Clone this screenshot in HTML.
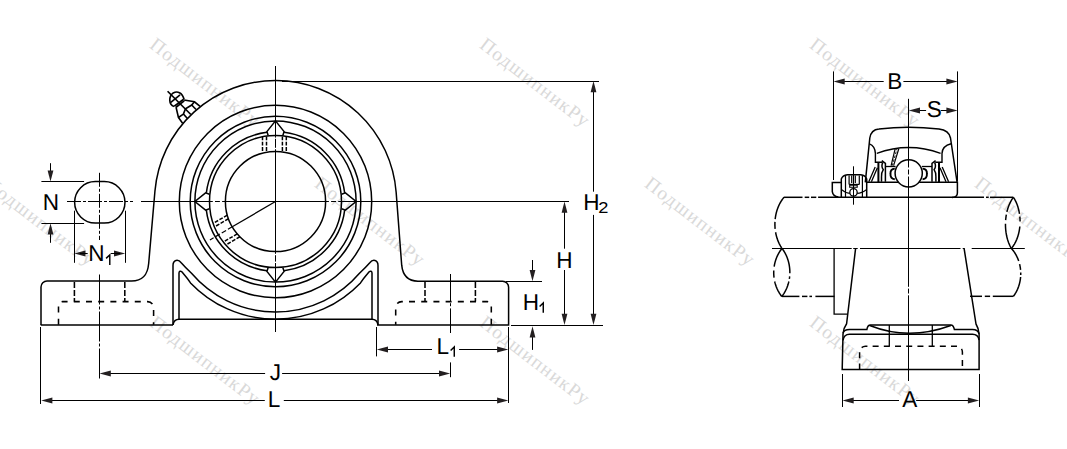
<!DOCTYPE html>
<html><head><meta charset="utf-8">
<style>
html,body{margin:0;padding:0;background:#fff;}
svg{display:block;}
svg text{font-family:"Liberation Sans",sans-serif;fill:#000;stroke:none;text-rendering:geometricPrecision;}
svg text.wm{font-family:"Liberation Serif",serif;fill:#d9d9d9;font-size:19.5px;letter-spacing:1.2px;}
</style></head><body>
<svg width="1067" height="449" viewBox="0 0 1067 449" stroke="#000" fill="none" stroke-linecap="butt">
<text class="wm" transform="translate(157,36) rotate(37.5)" x="0" y="14">ПодшипникРу</text>
<text class="wm" transform="translate(487,36) rotate(37.5)" x="0" y="14">ПодшипникРу</text>
<text class="wm" transform="translate(817,36) rotate(37.5)" x="0" y="14">ПодшипникРу</text>
<text class="wm" transform="translate(-8,175) rotate(37.5)" x="0" y="14">ПодшипникРу</text>
<text class="wm" transform="translate(322,175) rotate(37.5)" x="0" y="14">ПодшипникРу</text>
<text class="wm" transform="translate(652,175) rotate(37.5)" x="0" y="14">ПодшипникРу</text>
<text class="wm" transform="translate(982,175) rotate(37.5)" x="0" y="14">ПодшипникРу</text>
<text class="wm" transform="translate(157,314) rotate(37.5)" x="0" y="14">ПодшипникРу</text>
<text class="wm" transform="translate(487,314) rotate(37.5)" x="0" y="14">ПодшипникРу</text>
<text class="wm" transform="translate(817,314) rotate(37.5)" x="0" y="14">ПодшипникРу</text>
<line x1="275.5" y1="66" x2="275.5" y2="137.6" stroke-width="1.05"/>
<line x1="275.5" y1="138.8" x2="275.5" y2="147.8" stroke-width="1.05"/>
<line x1="275.5" y1="149.2" x2="275.5" y2="253.8" stroke-width="1.05"/>
<line x1="275.5" y1="255.2" x2="275.5" y2="261.6" stroke-width="1.05"/>
<line x1="275.5" y1="263" x2="275.5" y2="332" stroke-width="1.05"/>
<line x1="141" y1="201.5" x2="212.8" y2="201.5" stroke-width="1.05"/>
<line x1="215" y1="201.5" x2="219.9" y2="201.5" stroke-width="1.05"/>
<line x1="222.1" y1="201.5" x2="328.9" y2="201.5" stroke-width="1.05"/>
<line x1="331.1" y1="201.5" x2="336" y2="201.5" stroke-width="1.05"/>
<line x1="338.2" y1="201.5" x2="569" y2="201.5" stroke-width="1.05"/>
<line x1="67" y1="201.5" x2="133" y2="201.5" stroke-width="1.0" stroke-dasharray="14,2,3,2"/>
<line x1="99.5" y1="172.8" x2="99.5" y2="240" stroke-width="1.0" stroke-dasharray="14,2,3,2"/>
<line x1="99.5" y1="274.5" x2="99.5" y2="380.4" stroke-width="1.0" stroke-dasharray="30,2,3,2"/>
<path d="M95.3,181.6 L104.3,181.6 A20.7,20.7 0 0 1 104.3,223 L95.3,223 A20.7,20.7 0 0 1 95.3,181.6 Z" stroke-width="1.5" fill="none"/>
<line x1="41.4" y1="181.5" x2="84.1" y2="181.5" stroke-width="1.0"/>
<line x1="41.4" y1="223.5" x2="84.1" y2="223.5" stroke-width="1.0"/>
<line x1="50.5" y1="163.2" x2="50.5" y2="175" stroke-width="1.0"/>
<path d="M50.5,181.6 L47.6,170.4 L53.4,170.4 Z" fill="#231f20" stroke="none"/>
<line x1="50.5" y1="232" x2="50.5" y2="242.8" stroke-width="1.0"/>
<path d="M50.5,223.2 L53.4,234.4 L47.6,234.4 Z" fill="#231f20" stroke="none"/>
<text transform="translate(42.75,209.7) scale(0.98,1.0)" font-size="23">N</text>
<line x1="74.5" y1="210.7" x2="74.5" y2="262.8" stroke-width="1.0"/>
<line x1="125.5" y1="210.7" x2="125.5" y2="262.8" stroke-width="1.0"/>
<path d="M74.3,253.5 L85.5,250.6 L85.5,256.4 Z" fill="#231f20" stroke="none"/>
<path d="M125.2,253.5 L114,256.4 L114,250.6 Z" fill="#231f20" stroke="none"/>
<line x1="80" y1="253.5" x2="87.7" y2="253.5" stroke-width="1.0"/>
<line x1="110.8" y1="253.5" x2="120" y2="253.5" stroke-width="1.0"/>
<text transform="translate(88.35,260.9) scale(0.98,1.0)" font-size="23">N</text>
<path d="M109.78,265 L109.78,254.9 L106.1,258.4" stroke-width="1.45" stroke-linejoin="miter" fill="none"/>
<circle cx="275.5" cy="201.5" r="96.2" stroke-width="1.5" fill="none"/>
<circle cx="275.5" cy="201.5" r="85.3" stroke-width="1.5" fill="none"/>
<circle cx="275.5" cy="201.5" r="80.6" stroke-width="1.5" fill="none"/>
<circle cx="275.5" cy="201.5" r="66" stroke-width="1.5" fill="none"/>
<circle cx="275.5" cy="201.5" r="50.1" stroke-width="1.5" fill="none"/>
<path d="M344.67,210.1 A69.7,69.7 0 0 1 284.1,270.67" stroke-width="1.5" fill="none"/>
<path d="M266.9,270.67 A69.7,69.7 0 0 1 206.33,210.1" stroke-width="1.5" fill="none"/>
<path d="M206.33,192.9 A69.7,69.7 0 0 1 266.9,132.33" stroke-width="1.5" fill="none"/>
<path d="M284.1,132.33 A69.7,69.7 0 0 1 344.67,192.9" stroke-width="1.5" fill="none"/>
<path d="M341.6,208.8 L345.4,210.1 L356.1,201.5 L345.4,192.9 L341.6,194.2" stroke-width="1.5" fill="none"/>
<path d="M268.2,267.6 L266.9,271.4 L275.5,282.1 L284.1,271.4 L282.8,267.6" stroke-width="1.5" fill="none"/>
<path d="M209.4,194.2 L205.6,192.9 L194.9,201.5 L205.6,210.1 L209.4,208.8" stroke-width="1.5" fill="none"/>
<path d="M282.8,135.4 L284.1,131.6 L275.5,120.9 L266.9,131.6 L268.2,135.4" stroke-width="1.5" fill="none"/>
<line x1="262.5" y1="136.5" x2="262.5" y2="152" stroke-width="1.5" stroke-dasharray="3.8,1.5"/>
<line x1="266.5" y1="136.5" x2="266.5" y2="152" stroke-width="1.5" stroke-dasharray="3.8,1.5"/>
<line x1="282.4" y1="136.5" x2="282.4" y2="152" stroke-width="1.5" stroke-dasharray="3.8,1.5"/>
<line x1="286.3" y1="136.5" x2="286.3" y2="152" stroke-width="1.5" stroke-dasharray="3.8,1.5"/>
<line x1="239.88" y1="236.73" x2="225.82" y2="244.96" stroke-width="1.5" stroke-dasharray="3.8,1.5"/>
<line x1="237.25" y1="233.86" x2="223.38" y2="241.99" stroke-width="1.5" stroke-dasharray="3.8,1.5"/>
<line x1="228.46" y1="218.73" x2="214.57" y2="226.86" stroke-width="1.5" stroke-dasharray="3.8,1.5"/>
<line x1="227.29" y1="215.13" x2="213.23" y2="223.36" stroke-width="1.5" stroke-dasharray="3.8,1.5"/>
<line x1="275.5" y1="201.5" x2="232.27" y2="226.81" stroke-width="1.3"/>
<line x1="232.27" y1="226.81" x2="209.92" y2="239.9" stroke-width="1.2" stroke-dasharray="5,2.2"/>
<path d="M41,324.9 L41,287 A6,6 0 0 1 47,281 L131.5,281 C142,281 147.6,276 148.7,263.2 L154.95,191.05 A121.0,121.0 0 0 1 396.15,192.31 L401.7,265.2 C402.8,276 408.5,281.2 418,281.2 L502.6,281.2 A6,6 0 0 1 508.6,287.2 L508.6,324.9 L377,324.9" stroke-width="1.5" fill="none"/>
<path d="M173,324.9 L40.7,324.9" stroke-width="1.5" fill="none"/>
<line x1="282" y1="81.5" x2="599" y2="81.5" stroke-width="1.0"/>
<path d="M173,324.9 L173,265.5 C173,259.8 178.2,258.8 181.2,262.8 C184,266 187.5,269.6 191.5,273.29 A110.5,110.5 0 0 0 359.5,273.29 C363.5,269.6 367,266 369.8,262.8 C372.8,258.8 378,259.8 378,265.5 L378,324.9" stroke-width="1.5" fill="none"/>
<path d="M173,324.9 Q174,319.2 179,319.2 L372,319.2 Q377,319.2 378,324.9" stroke-width="1.5" fill="none"/>
<path d="M179,319.2 L179,273 C179,271.2 180.6,270.6 181.8,271.8 C184.5,275 187.5,278.5 190.5,282.91 A117.7,117.7 0 0 0 360.5,282.91 C363.5,278.5 366.5,275 369.2,271.8 C370.4,270.6 372,271.2 372,273 L372,319.2" stroke-width="1.5" fill="none"/>
<line x1="74.4" y1="282" x2="74.4" y2="301.6" stroke-width="1.55" stroke-dasharray="6,2"/>
<line x1="124.8" y1="282" x2="124.8" y2="301.6" stroke-width="1.55" stroke-dasharray="6,2"/>
<path d="M58.5,324.8 L58.5,305.6 A4,4 0 0 1 62.5,301.6 L147.6,301.6 A6,6 0 0 1 153.6,307.6 L153.6,324.8" stroke-width="1.55" fill="none" stroke-dasharray="6,6.2"/>
<line x1="425" y1="282" x2="425" y2="301.6" stroke-width="1.55" stroke-dasharray="6,2"/>
<line x1="475.4" y1="282" x2="475.4" y2="301.6" stroke-width="1.55" stroke-dasharray="6,2"/>
<path d="M491.3,324.8 L491.3,305.6 A4,4 0 0 0 487.3,301.6 L401.7,301.6 A6,6 0 0 0 395.7,307.6 L395.7,324.8" stroke-width="1.55" fill="none" stroke-dasharray="6,6.2"/>
<line x1="450.5" y1="274" x2="450.5" y2="333" stroke-width="1.0" stroke-dasharray="27,2.2,3,2.2,40"/>
<line x1="450.5" y1="362.4" x2="450.5" y2="377.2" stroke-width="1.0"/>
<path d="M167.61,91.21 L190.86,114.46" stroke-width="1.65" fill="none"/>
<path d="M174.02,106.6 C168.65,104.44 168.41,96.66 173.22,92.97 C177.23,90.81 182.28,92.41 184.05,99.23" stroke-width="1.65" fill="none"/>
<path d="M170.82,102.43 L180.04,94.82" stroke-width="1.65" fill="none"/>
<path d="M174.26,106.28 L183.65,99.23" stroke-width="1.65" fill="none"/>
<path d="M176.03,107.25 L184.21,100.83" stroke-width="1.65" fill="none"/>
<path d="M176.03,107.09 L178.43,117.51 L182.6,123.28" stroke-width="1.65" fill="none"/>
<path d="M184.05,100.03 L194.47,101.79 L200.09,106.44" stroke-width="1.65" fill="none"/>
<path d="M178.43,117.51 L183.41,114.06 L185.49,108.69 L191.67,105 L194.47,101.79" stroke-width="1.65" fill="none"/>
<path d="M183.41,114.06 L187.42,118.47" stroke-width="1.65" fill="none"/>
<path d="M191.67,105 L196.08,109.49" stroke-width="1.65" fill="none"/>
<line x1="506" y1="281.5" x2="542" y2="281.5" stroke-width="1.0"/>
<line x1="511" y1="325.5" x2="603" y2="325.5" stroke-width="1.0"/>
<line x1="564.5" y1="212" x2="564.5" y2="248.7" stroke-width="1.0"/>
<path d="M564.5,201.5 L567.4,212.7 L561.6,212.7 Z" fill="#231f20" stroke="none"/>
<line x1="564.5" y1="270" x2="564.5" y2="315" stroke-width="1.0"/>
<path d="M564.5,325 L561.6,313.8 L567.4,313.8 Z" fill="#231f20" stroke="none"/>
<text transform="translate(556.15,267.7) scale(0.98,1.0)" font-size="23">H</text>
<line x1="593.5" y1="91" x2="593.5" y2="191.7" stroke-width="1.0"/>
<path d="M593.5,81 L596.4,92.2 L590.6,92.2 Z" fill="#231f20" stroke="none"/>
<line x1="593.5" y1="214.9" x2="593.5" y2="315" stroke-width="1.0"/>
<path d="M593.5,325 L590.6,313.8 L596.4,313.8 Z" fill="#231f20" stroke="none"/>
<text transform="translate(583.35,210) scale(0.98,1.0)" font-size="23">H</text>
<text transform="translate(598.18,212.9) scale(1.2,1.03)" font-size="15.2">2</text>
<line x1="532.5" y1="260" x2="532.5" y2="271" stroke-width="1.0"/>
<path d="M532.5,281.2 L529.6,270 L535.4,270 Z" fill="#231f20" stroke="none"/>
<line x1="532.5" y1="336.5" x2="532.5" y2="349.9" stroke-width="1.0"/>
<path d="M532.5,326.3 L535.4,337.5 L529.6,337.5 Z" fill="#231f20" stroke="none"/>
<text transform="translate(522.75,309.7) scale(0.98,1.0)" font-size="23">H</text>
<path d="M543.27,312.7 L543.27,302.9 L539.6,306.4" stroke-width="1.45" stroke-linejoin="miter" fill="none"/>
<line x1="40.5" y1="327" x2="40.5" y2="404" stroke-width="1.0"/>
<line x1="508.5" y1="327" x2="508.5" y2="403" stroke-width="1.0"/>
<line x1="376.5" y1="327" x2="376.5" y2="356.4" stroke-width="1.0"/>
<line x1="45" y1="400.5" x2="264.8" y2="400.5" stroke-width="1.0"/>
<line x1="283.8" y1="400.5" x2="505" y2="400.5" stroke-width="1.0"/>
<path d="M41.2,400.5 L52.4,397.6 L52.4,403.4 Z" fill="#231f20" stroke="none"/>
<path d="M508.3,400.5 L497.1,403.4 L497.1,397.6 Z" fill="#231f20" stroke="none"/>
<text transform="translate(267.75,406.9) scale(0.98,1.0)" font-size="23">L</text>
<line x1="102" y1="373.5" x2="265.1" y2="373.5" stroke-width="1.0"/>
<line x1="282.1" y1="373.5" x2="447" y2="373.5" stroke-width="1.0"/>
<path d="M99.6,373.5 L110.8,370.6 L110.8,376.4 Z" fill="#231f20" stroke="none"/>
<path d="M450.2,373.5 L439,376.4 L439,370.6 Z" fill="#231f20" stroke="none"/>
<text transform="translate(269.75,379.9) scale(0.98,1.0)" font-size="23">J</text>
<line x1="380" y1="349.5" x2="432" y2="349.5" stroke-width="1.0"/>
<line x1="459.1" y1="349.5" x2="505" y2="349.5" stroke-width="1.0"/>
<path d="M376.8,349.5 L388,346.6 L388,352.4 Z" fill="#231f20" stroke="none"/>
<path d="M508.3,349.5 L497.1,352.4 L497.1,346.6 Z" fill="#231f20" stroke="none"/>
<text transform="translate(436.45,353.9) scale(0.98,1.0)" font-size="23">L</text>
<path d="M454.27,356.8 L454.27,346.9 L450.6,350.4" stroke-width="1.45" stroke-linejoin="miter" fill="none"/>
<line x1="833.5" y1="71.4" x2="833.5" y2="180" stroke-width="1.0"/>
<line x1="957.5" y1="71.4" x2="957.5" y2="181" stroke-width="1.0"/>
<line x1="837" y1="81.5" x2="883.7" y2="81.5" stroke-width="1.0"/>
<line x1="903.4" y1="81.5" x2="954" y2="81.5" stroke-width="1.0"/>
<path d="M833.5,81.5 L844.7,78.6 L844.7,84.4 Z" fill="#231f20" stroke="none"/>
<path d="M957.6,81.5 L946.4,84.4 L946.4,78.6 Z" fill="#231f20" stroke="none"/>
<text transform="translate(887.15,89) scale(0.98,1.0)" font-size="23">B</text>
<line x1="908.5" y1="98.8" x2="908.5" y2="167.5" stroke-width="1.05"/>
<line x1="908.5" y1="169.5" x2="908.5" y2="174.5" stroke-width="1.05"/>
<line x1="908.5" y1="176.5" x2="908.5" y2="286.8" stroke-width="1.05"/>
<line x1="908.5" y1="288.6" x2="908.5" y2="293.5" stroke-width="1.05"/>
<line x1="908.5" y1="295.3" x2="908.5" y2="381" stroke-width="1.05"/>
<line x1="912" y1="110.5" x2="926.1" y2="110.5" stroke-width="1.0"/>
<line x1="940.8" y1="110.5" x2="954" y2="110.5" stroke-width="1.0"/>
<path d="M908.8,110.5 L920,107.6 L920,113.4 Z" fill="#231f20" stroke="none"/>
<path d="M957.6,110.5 L946.4,113.4 L946.4,107.6 Z" fill="#231f20" stroke="none"/>
<text transform="translate(926.68,117.2) scale(0.98,1.0)" font-size="23">S</text>
<line x1="842.5" y1="374" x2="842.5" y2="407" stroke-width="1.0"/>
<line x1="979.5" y1="374" x2="979.5" y2="407" stroke-width="1.0"/>
<line x1="846" y1="400.5" x2="899" y2="400.5" stroke-width="1.0"/>
<line x1="916.1" y1="400.5" x2="976" y2="400.5" stroke-width="1.0"/>
<path d="M842.5,400.5 L853.7,397.6 L853.7,403.4 Z" fill="#231f20" stroke="none"/>
<path d="M979.1,400.5 L967.9,403.4 L967.9,397.6 Z" fill="#231f20" stroke="none"/>
<text transform="translate(902.36,406.9) scale(0.98,1.0)" font-size="23">A</text>
<path d="M865.3,182.4 L869.8,138 Q871,129.5 879,128.9 Q908,125.5 939,128.9 Q949,130 950.5,138 L957.1,182.4" stroke-width="1.5" fill="none"/>
<path d="M876.8,153.3 Q908.7,141.7 940.6,153.3" stroke-width="1.4" fill="none"/>
<path d="M951.1,143.8 Q942.3,146 942,153.4 L942,162.3 L935.3,162.3" stroke-width="1.4" fill="none"/>
<path d="M939,162.3 L939,182" stroke-width="2.0" fill="none"/>
<path d="M935.6,160.6 L932,163.4 L932,181.8" stroke-width="1.5" fill="none"/>
<path d="M934.6,162.4 Q936.6,166.5 934.1,169.6 Q936.6,173.5 935.9,176.8 L935.9,181.8" stroke-width="1.5" fill="none"/>
<path d="M921.8,166.5 L932,166.5" stroke-width="1.3" fill="none"/>
<path d="M922.6,168.6 Q927.3,169 926.9,173.9 Q927.3,178.8 922.6,179.2" stroke-width="1.9" fill="none"/>
<path d="M940,167.7 L946,181.7 M942.2,167 L948.6,181.7" stroke-width="1.3" fill="none"/>
<path d="M869.4,143.8 Q875.1,146 875.4,153.4 L875.4,162.3 L882.1,162.3" stroke-width="1.4" fill="none"/>
<path d="M878.4,162.3 L878.4,182" stroke-width="2.0" fill="none"/>
<path d="M881.8,160.6 L885.4,163.4 L885.4,181.8" stroke-width="1.5" fill="none"/>
<path d="M882.8,162.4 Q880.8,166.5 883.3,169.6 Q880.8,173.5 881.5,176.8 L881.5,181.8" stroke-width="1.5" fill="none"/>
<path d="M895.6,166.5 L885.4,166.5" stroke-width="1.3" fill="none"/>
<path d="M894.8,168.6 Q890.1,169 890.5,173.9 Q890.1,178.8 894.8,179.2" stroke-width="1.9" fill="none"/>
<path d="M877.4,167.7 L871.4,181.7 M875.2,167 L868.8,181.7" stroke-width="1.3" fill="none"/>
<path d="M866.7,182.3 L898.2,182.3 M919.2,182.3 L957.4,182.3 L957.4,193 Q957.4,197.4 952,197.4" stroke-width="1.5" fill="none"/>
<circle cx="908.7" cy="173.3" r="13.6" stroke-width="1.5" fill="none"/>
<line x1="891.1" y1="165.6" x2="895.2" y2="148.7" stroke-width="1.2"/>
<line x1="893.6" y1="165.6" x2="898.8" y2="148.7" stroke-width="1.2"/>
<line x1="892.3" y1="165.6" x2="897" y2="148.7" stroke-width="0.9" stroke-dasharray="2.5,1.5"/>
<path d="M841.3,182.4 L832.3,182.4 L832.3,191.7 Q833,196.6 838.4,197" stroke-width="1.5" fill="none"/>
<path d="M841.3,197 L841.3,179 Q842.5,175.6 847.4,174.8 L860.7,174.8 Q865.5,175.6 866.7,179 L866.7,197" stroke-width="1.5" fill="none"/>
<line x1="845.5" y1="175.5" x2="845.5" y2="197" stroke-width="1.2"/>
<line x1="849.1" y1="175.5" x2="849.1" y2="184.4" stroke-width="1.2"/>
<line x1="851.7" y1="175.5" x2="851.7" y2="183" stroke-width="1.2"/>
<line x1="855.3" y1="175.5" x2="855.3" y2="183" stroke-width="1.2"/>
<line x1="859.3" y1="175.5" x2="859.3" y2="184.4" stroke-width="1.2"/>
<line x1="862.4" y1="175.5" x2="862.4" y2="197" stroke-width="1.2"/>
<line x1="849.1" y1="184.4" x2="859.3" y2="184.4" stroke-width="1.2"/>
<path d="M849.7,185.2 L857.2,185.2 L857.2,187.2 L849.7,187.2 Z" stroke-width="1.1" fill="none"/>
<path d="M841.3,189.4 Q845.5,193.2 849.8,193.4 M857.2,193.4 Q861.5,193.2 866.7,189.4" stroke-width="1.2" fill="none"/>
<circle cx="853.5" cy="192.4" r="3.7" stroke-width="1.3" fill="none"/>
<line x1="853.5" y1="166.3" x2="853.5" y2="204.7" stroke-width="1.0"/>
<line x1="783.9" y1="197.3" x2="802.5" y2="197.3" stroke-width="1.5"/>
<line x1="804.7" y1="197.3" x2="809.2" y2="197.3" stroke-width="1.5"/>
<line x1="811" y1="197.3" x2="816.3" y2="197.3" stroke-width="1.5"/>
<line x1="818.1" y1="197.3" x2="984" y2="197.3" stroke-width="1.5"/>
<line x1="986" y1="197.3" x2="988.7" y2="197.3" stroke-width="1.5"/>
<line x1="990" y1="197.3" x2="1013.4" y2="197.3" stroke-width="1.5"/>
<line x1="772" y1="248.5" x2="851.7" y2="248.5" stroke-width="1.05"/>
<line x1="853.2" y1="248.5" x2="857.7" y2="248.5" stroke-width="1.05"/>
<line x1="860" y1="248.5" x2="960.5" y2="248.5" stroke-width="1.05"/>
<line x1="962.7" y1="248.5" x2="964.7" y2="248.5" stroke-width="1.05"/>
<line x1="971.7" y1="248.5" x2="1024.8" y2="248.5" stroke-width="1.05"/>
<line x1="781.8" y1="296.4" x2="799.4" y2="296.4" stroke-width="1.5"/>
<line x1="802" y1="296.4" x2="807.4" y2="296.4" stroke-width="1.5"/>
<line x1="809.4" y1="296.4" x2="812" y2="296.4" stroke-width="1.5"/>
<line x1="815.4" y1="296.4" x2="834.5" y2="296.4" stroke-width="1.5"/>
<line x1="970" y1="296.3" x2="982" y2="296.3" stroke-width="1.5"/>
<line x1="984.8" y1="296.3" x2="990.1" y2="296.3" stroke-width="1.5"/>
<line x1="992.8" y1="296.3" x2="1013.5" y2="296.3" stroke-width="1.5"/>
<path d="M784,197.3 L783.57,197.82 L783.16,198.34 L782.75,198.88 L782.36,199.42 L781.97,199.97 L781.6,200.53 L781.23,201.1 L780.88,201.67 L780.54,202.25 L780.2,202.84 L779.88,203.43 L779.57,204.03 L779.26,204.64 L778.97,205.25 L778.69,205.87 L778.42,206.49 L778.15,207.12 L777.9,207.76 L777.66,208.4 L777.43,209.04 L777.21,209.69 L777,210.34 L776.8,211 L776.61,211.66 L776.43,212.32 L776.26,212.99 L776.1,213.66 L775.95,214.34 L775.81,215.01 L775.68,215.69 L775.56,216.37 L775.45,217.06 L775.35,217.74 L775.26,218.43 L775.18,219.12" stroke-width="1.5" fill="none"/>
<path d="M774.97,221.89 L774.94,222.59 L774.92,223.28 L774.91,223.98 L774.91,224.67 L774.92,225.37 L774.95,226.06 L774.98,226.75 L775.02,227.45 L775.07,228.14 L775.13,228.83" stroke-width="1.5" fill="none"/>
<path d="M775.59,232.25 L775.72,232.93 L775.85,233.6 L775.99,234.27 L776.14,234.94 L776.3,235.61 L776.48,236.27 L776.66,236.92 L776.85,237.58 L777.05,238.23 L777.26,238.87 L777.49,239.51 L777.72,240.15 L777.96,240.78 L778.21,241.4 L778.47,242.02 L778.74,242.63 L779.02,243.24 L779.32,243.84 L779.62,244.43 L779.93,245.02 L780.25,245.6 L780.58,246.18 L780.92,246.74 L781.27,247.3 L781.63,247.86 L782,248.4" stroke-width="1.5" fill="none"/>
<path d="M782,248.4 L781.59,248.91 L781.2,249.43 L780.81,249.96 L780.43,250.49 L780.07,251.03 L779.71,251.58 L779.37,252.13 L779.03,252.69 L778.7,253.25 L778.39,253.82 L778.09,254.39 L777.79,254.97 L777.51,255.55 L777.23,256.14 L776.97,256.73 L776.72,257.33 L776.48,257.93 L776.24,258.53 L776.02,259.14 L775.81,259.75 L775.61,260.37 L775.42,260.99 L775.24,261.61 L775.06,262.24 L774.9,262.86 L774.75,263.49 L774.61,264.13 L774.48,264.76 L774.36,265.4 L774.26,266.04 L774.16,266.68" stroke-width="1.5" fill="none"/>
<path d="M773.78,270.54 L773.75,271.19 L773.73,271.84 L773.73,272.49 L773.73,273.14 L773.74,273.78 L773.77,274.43 L773.8,275.08 L773.84,275.72 L773.9,276.37 L773.96,277.01 L774.04,277.65" stroke-width="1.5" fill="none"/>
<path d="M774.7,281.47 L774.85,282.1 L775,282.73 L775.17,283.35 L775.34,283.97 L775.53,284.59 L775.73,285.2 L775.94,285.81 L776.15,286.42 L776.38,287.02 L776.62,287.62 L776.87,288.21 L777.12,288.8 L777.39,289.39 L777.67,289.97 L777.96,290.54 L778.26,291.12 L778.57,291.68 L778.88,292.24 L779.21,292.79 L779.55,293.34 L779.9,293.88 L780.26,294.42 L780.63,294.95 L781.01,295.47 L781.4,295.99 L781.8,296.5" stroke-width="1.5" fill="none"/>
<path d="M782,248.4 L782.39,248.91 L782.77,249.43 L783.14,249.96 L783.5,250.49 L783.85,251.03 L784.19,251.58 L784.51,252.13 L784.83,252.69 L785.14,253.25 L785.44,253.82 L785.74,254.39 L786.02,254.97 L786.29,255.55 L786.55,256.14 L786.8,256.73 L787.04,257.33 L787.27,257.93 L787.49,258.53 L787.7,259.14 L787.9,259.75 L788.09,260.37 L788.28,260.99 L788.45,261.61 L788.61,262.24 L788.76,262.86 L788.9,263.49 L789.04,264.13 L789.16,264.76 L789.27,265.4 L789.37,266.04 L789.46,266.68 L789.55,267.32 L789.62,267.96 L789.68,268.61 L789.74,269.25 L789.78,269.9 L789.81,270.54 L789.83,271.19 L789.85,271.84 L789.85,272.49 L789.84,273.14" stroke-width="1.5" fill="none"/>
<path d="M789.66,276.37 L789.59,277.01 L789.52,277.65 L789.43,278.29 L789.33,278.93" stroke-width="1.5" fill="none"/>
<path d="M788.85,281.47 L788.7,282.1 L788.55,282.73 L788.38,283.35 L788.2,283.97 L788.02,284.59 L787.82,285.2 L787.62,285.81 L787.4,286.42 L787.17,287.02 L786.94,287.62 L786.69,288.21 L786.44,288.8 L786.17,289.39 L785.89,289.97 L785.61,290.54 L785.31,291.12 L785.01,291.68 L784.69,292.24 L784.36,292.79 L784.03,293.34 L783.68,293.88 L783.32,294.42 L782.96,294.95 L782.58,295.47 L782.2,295.99 L781.8,296.5" stroke-width="1.5" fill="none"/>
<path d="M1013.4,197.3 L1013.02,197.82 L1012.65,198.35 L1012.3,198.88 L1011.95,199.43 L1011.61,199.98 L1011.28,200.55 L1010.96,201.12 L1010.64,201.7 L1010.34,202.29 L1010.05,202.88 L1009.77,203.48 L1009.49,204.09 L1009.23,204.71 L1008.97,205.33 L1008.73,205.95 L1008.49,206.59 L1008.26,207.23 L1008.04,207.87 L1007.83,208.52 L1007.63,209.18 L1007.44,209.84 L1007.26,210.5 L1007.08,211.17 L1006.92,211.85" stroke-width="1.5" fill="none"/>
<path d="M1006.35,214.57 L1006.23,215.26 L1006.12,215.96 L1006.02,216.65 L1005.93,217.35 L1005.84,218.04 L1005.77,218.74 L1005.7,219.45 L1005.64,220.15" stroke-width="1.5" fill="none"/>
<path d="M1005.49,223.67 L1005.48,224.37 L1005.48,225.07 L1005.49,225.78 L1005.51,226.48 L1005.54,227.18 L1005.58,227.87 L1005.62,228.57 L1005.68,229.26 L1005.74,229.96 L1005.81,230.64 L1005.89,231.33 L1005.98,232.01 L1006.07,232.69 L1006.18,233.37 L1006.29,234.04 L1006.41,234.71 L1006.54,235.37 L1006.67,236.03 L1006.82,236.69 L1006.97,237.34 L1007.13,237.98 L1007.3,238.62 L1007.48,239.26 L1007.67,239.88 L1007.86,240.5 L1008.06,241.12 L1008.27,241.73 L1008.49,242.33 L1008.71,242.92 L1008.95,243.5 L1009.19,244.08 L1009.44,244.65 L1009.69,245.21 L1009.96,245.77 L1010.23,246.31 L1010.51,246.85 L1010.8,247.38 L1011.1,247.89 L1011.4,248.4" stroke-width="1.5" fill="none"/>
<path d="M1013.4,197.3 L1013.74,197.82 L1014.07,198.35 L1014.4,198.88 L1014.71,199.43 L1015.02,199.98 L1015.31,200.55 L1015.6,201.12 L1015.88,201.7 L1016.15,202.29 L1016.41,202.88 L1016.67,203.48 L1016.91,204.09 L1017.15,204.71 L1017.37,205.33 L1017.59,205.95 L1017.8,206.59 L1018,207.23 L1018.19,207.87 L1018.37,208.52 L1018.54,209.18 L1018.71,209.84 L1018.86,210.5 L1019.01,211.17 L1019.14,211.85 L1019.27,212.52 L1019.39,213.2 L1019.49,213.89" stroke-width="1.5" fill="none"/>
<path d="M1019.83,216.65 L1019.9,217.35 L1019.95,218.04 L1019.99,218.74 L1020.02,219.45 L1020.05,220.15 L1020.06,220.85 L1020.07,221.55" stroke-width="1.5" fill="none"/>
<path d="M1019.84,226.48 L1019.76,227.18 L1019.68,227.87 L1019.59,228.57 L1019.49,229.26 L1019.38,229.96 L1019.26,230.64 L1019.13,231.33 L1018.99,232.01 L1018.84,232.69 L1018.68,233.37 L1018.51,234.04 L1018.33,234.71 L1018.14,235.37 L1017.94,236.03 L1017.73,236.69 L1017.51,237.34 L1017.28,237.98 L1017.04,238.62 L1016.79,239.26 L1016.53,239.88 L1016.26,240.5 L1015.98,241.12 L1015.69,241.73 L1015.39,242.33 L1015.08,242.92 L1014.76,243.5 L1014.43,244.08 L1014.08,244.65 L1013.73,245.21 L1013.37,245.77 L1013,246.31 L1012.61,246.85 L1012.22,247.38 L1011.81,247.89 L1011.4,248.4" stroke-width="1.5" fill="none"/>
<path d="M1011.4,248.4 L1011.85,248.91 L1012.28,249.43 L1012.71,249.96 L1013.12,250.49 L1013.53,251.03 L1013.92,251.58 L1014.3,252.13 L1014.67,252.69 L1015.03,253.25 L1015.37,253.82 L1015.71,254.39 L1016.03,254.97 L1016.35,255.55 L1016.65,256.14 L1016.94,256.73 L1017.22,257.33 L1017.49,257.93 L1017.75,258.53 L1018,259.14 L1018.24,259.75 L1018.46,260.37 L1018.68,260.98" stroke-width="1.5" fill="none"/>
<path d="M1019.59,264.12 L1019.74,264.75 L1019.88,265.39 L1020.01,266.03 L1020.13,266.66 L1020.24,267.31 L1020.34,267.95 L1020.42,268.59 L1020.5,269.23 L1020.57,269.88" stroke-width="1.5" fill="none"/>
<path d="M1020.72,272.46 L1020.74,273.11 L1020.74,273.75 L1020.73,274.4 L1020.72,275.04" stroke-width="1.5" fill="none"/>
<path d="M1020.6,276.97 L1020.54,277.61 L1020.48,278.25 L1020.4,278.89 L1020.31,279.52 L1020.21,280.15 L1020.1,280.78 L1019.98,281.41 L1019.85,282.04 L1019.71,282.66 L1019.56,283.28 L1019.4,283.89 L1019.23,284.51 L1019.05,285.12 L1018.86,285.72 L1018.66,286.33 L1018.45,286.92 L1018.23,287.52 L1018,288.11 L1017.76,288.69 L1017.52,289.27 L1017.26,289.85 L1016.99,290.42 L1016.71,290.98 L1016.42,291.54 L1016.12,292.09 L1015.82,292.64 L1015.5,293.18 L1015.17,293.72 L1014.84,294.25 L1014.49,294.77 L1014.14,295.29 L1013.77,295.8 L1013.4,296.3" stroke-width="1.5" fill="none"/>
<path d="M834.1,248.4 L834.1,314.2 L847,314.2" stroke-width="1.3" fill="none"/>
<path d="M855.6,248.4 L846.6,323.8 Q843.5,328 843,334 L842.2,369.6 L979.1,369.6 L979.1,334 Q978.5,328 976,324 L964.1,248.4" stroke-width="1.5" fill="none"/>
<path d="M843,333.2 Q844,329.5 849.5,329.5 L866.9,329.5 Q867.5,325 870.5,324.9 L950.8,324.9 Q953.5,325 954.4,329.5 L972.5,329.5 Q978,329.5 979.1,333.9" stroke-width="1.5" fill="none"/>
<path d="M843,340.4 Q844,334.3 849.5,334.3 L972.5,334.3 Q978,334.3 979.1,340" stroke-width="1.5" fill="none"/>
<path d="M869.7,325.5 Q908.8,341 950.8,325.5" stroke-width="1.4" fill="none"/>
<line x1="889.3" y1="325" x2="889.3" y2="346.2" stroke-width="1.3"/>
<line x1="932.3" y1="325" x2="932.3" y2="346.2" stroke-width="1.3"/>
<path d="M859.6,369.5 L859.6,352 A5.8,5.8 0 0 1 865.4,346.2 L956.6,346.2 A5.8,5.8 0 0 1 962.4,352 L962.4,369.5" stroke-width="1.5" fill="none" stroke-dasharray="6,5.2"/>
</svg>
</body></html>
